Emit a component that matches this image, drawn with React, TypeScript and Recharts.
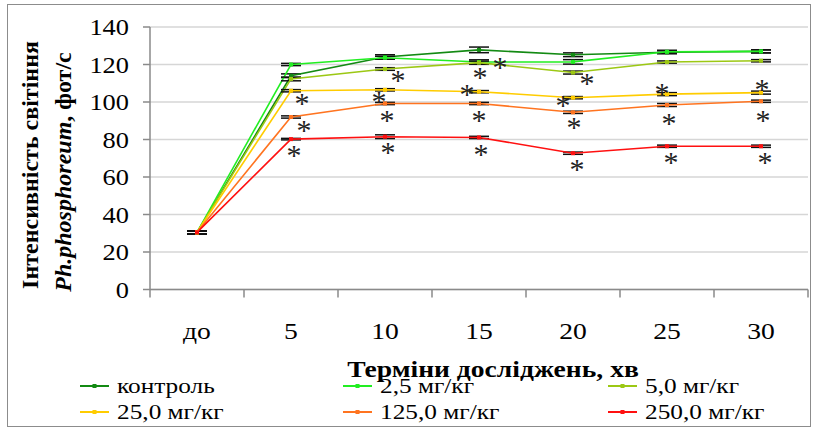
import React from 'react';
import {
  LineChart,
  Line,
  XAxis,
  YAxis,
  CartesianGrid,
  ErrorBar,
  LabelList,
  Legend,
} from 'recharts';

const SERIF = 'Liberation Serif, Times New Roman, serif';

// categories (time points)
const CATEGORIES = ['до', '5', '10', '15', '20', '25', '30'];

// luminescence intensity, per dose
const CONTROL = [30.5, 114, 124, 127.8, 125.2, 126.5, 127];
const DOSE_2_5 = [30.5, 120, 123.6, 121.3, 121.4, 126.8, 127];
const DOSE_5_0 = [30.5, 112.3, 117.6, 121, 115.7, 121.3, 122];
const DOSE_25 = [30.5, 106, 106.5, 105.5, 102.3, 104.2, 105];
const DOSE_125 = [30.5, 92, 99.2, 99.2, 94.5, 98.4, 100.4];
const DOSE_250 = [30.5, 80.2, 81.5, 81.1, 72.7, 76.4, 76.4];

// standard errors
const CONTROL_ERR = [0.8, 1, 1.2, 1.5, 1, 0.8, 0.8];
const DOSE_2_5_ERR = [0.8, 0.6, 0.8, 1.2, 1.2, 0.8, 0.8];
const DOSE_5_0_ERR = [0.8, 1, 0.7, 0.8, 0.8, 0.6, 0.6];
const DOSE_25_ERR = [0.8, 0.6, 0.6, 0.6, 0.6, 0.8, 0.8];
const DOSE_125_ERR = [0.8, 0.6, 0.6, 0.6, 0.6, 0.8, 0.6];
const DOSE_250_ERR = [0.8, 0.4, 1, 0.6, 0.6, 0.6, 0.6];

// significant difference vs control (asterisk)
const CONTROL_SIG = [false, false, false, false, false, false, false];
const DOSE_2_5_SIG = [false, false, false, true, false, false, false];
const DOSE_5_0_SIG = [false, false, true, true, true, false, false];
const DOSE_25_SIG = [false, true, true, true, true, true, true];
const DOSE_125_SIG = [false, true, true, true, true, true, true];
const DOSE_250_SIG = [false, true, true, true, true, true, true];

const Y_TICKS = [0, 20, 40, 60, 80, 100, 120, 140];

// asterisk placement relative to its point (px), styling only
const STAR_OFFSET: Record<string, [number, number][]> = {
  control: [],
  d2_5: [[0, 0], [0, 0], [0, 0], [21, 1]],
  d5_0: [[0, 0], [0, 0], [13, 7], [1, 10], [14, 6]],
  d25: [[0, 0], [11, 8], [-6, 7], [-12, -2], [-10, 3], [-5, -5], [1, -8]],
  d125: [[0, 0], [13, 9], [2, 12], [0, 12], [1, 11], [2, 14], [2, 15]],
  d250: [[0, 0], [3, 12], [3, 11], [2, 13], [4, 12], [4, 12], [4, 12]],
};

const SERIES = [
  { key: 'control', name: 'контроль', color: '#138a13', values: CONTROL, errors: CONTROL_ERR, sig: CONTROL_SIG },
  { key: 'd2_5', name: '2,5 мг/кг', color: '#22ee22', values: DOSE_2_5, errors: DOSE_2_5_ERR, sig: DOSE_2_5_SIG },
  { key: 'd5_0', name: '5,0 мг/кг', color: '#9cc814', values: DOSE_5_0, errors: DOSE_5_0_ERR, sig: DOSE_5_0_SIG },
  { key: 'd25', name: '25,0 мг/кг', color: '#ffcc00', values: DOSE_25, errors: DOSE_25_ERR, sig: DOSE_25_SIG },
  { key: 'd125', name: '125,0 мг/кг', color: '#ff7420', values: DOSE_125, errors: DOSE_125_ERR, sig: DOSE_125_SIG },
  { key: 'd250', name: '250,0 мг/кг', color: '#ff1010', values: DOSE_250, errors: DOSE_250_ERR, sig: DOSE_250_SIG },
];

const data = CATEGORIES.map((label, i) => {
  const row: Record<string, number | string> = { pos: i + 1, label };
  SERIES.forEach((s) => {
    row[s.key] = s.values[i];
    row[s.key + 'Err'] = s.errors[i];
  });
  return row;
});

const W = 814;
const H = 430;
const MARGIN = { top: 27, right: 6, bottom: 50, left: 0 };
const Y_AXIS_W = 150;
const X_AXIS_H = 90.5;
const PLOT_W = W - MARGIN.left - MARGIN.right - Y_AXIS_W;
const BAND = PLOT_W / CATEGORIES.length;
const AXIS_GREY = '#8a8a8a';
const STRETCH = 1.15; // the reference text is a little wider than tall

const XTick = (props: any) => {
  const { x, y, payload } = props;
  const i = Math.round(payload.value - 0.5);
  if (i >= CATEGORIES.length) return <g />;
  return (
    <g transform={`translate(${x + BAND / 2},${y + 39}) scale(${STRETCH},1)`}>
      <text x={0} y={0} textAnchor="middle" fontFamily={SERIF} fontSize={24} fill="#000">
        {CATEGORIES[i]}
      </text>
    </g>
  );
};

const YTick = (props: any) => {
  const { x, y, payload } = props;
  return (
    <g transform={`translate(${x},${y}) scale(1.1,1)`}>
      <text x={0} y={0} dy="0.34em" textAnchor="end" fontFamily={SERIF} fontSize={24} fill="#000">
        {payload.value}
      </text>
    </g>
  );
};

const SquareDot = (color: string) => (props: any) => {
  const { cx, cy, index } = props;
  if (cx == null || cy == null) return <g key={index} />;
  return <rect key={index} x={cx - 2} y={cy - 2} width={4} height={4} fill={color} />;
};

const starLabel = (key: string, sig: boolean[]) => (props: any) => {
  const { x, y, index } = props;
  if (!sig[index]) return null;
  const off = STAR_OFFSET[key][index] || [0, 10];
  return (
    <text
      key={index}
      x={x + off[0]}
      y={y + off[1] + 14}
      textAnchor="middle"
      fontFamily={SERIF}
      fontSize={30}
      fill="#222"
    >
      *
    </text>
  );
};

const renderLegend = () => (
  <div
    style={{
      display: 'grid',
      gridTemplateColumns: '263px 265px 190px',
      fontFamily: SERIF,
      fontSize: 22,
      color: '#000',
    }}
  >
    {SERIES.map((s) => (
      <div key={s.key} style={{ display: 'flex', alignItems: 'center', height: 26 }}>
        <svg width={29} height={8} style={{ flex: 'none' }}>
          <line x1={0} y1={4} x2={29} y2={4} stroke={s.color} strokeWidth={2} />
          <rect x={12.5} y={2} width={4} height={4} fill={s.color} />
        </svg>
        <span
          style={{
            marginLeft: 8,
            lineHeight: '26px',
            display: 'inline-block',
            whiteSpace: 'nowrap',
            transform: `scaleX(${STRETCH})`,
            transformOrigin: 'left center',
          }}
        >
          {s.name}
        </span>
      </div>
    ))}
  </div>
);

export default function App() {
  return (
    <div style={{ position: 'absolute', left: 0, top: 0, width: W, height: H, background: '#fff', fontFamily: SERIF }}>
      <div
        style={{
          position: 'absolute',
          left: 7,
          top: 4,
          width: 804,
          height: 423,
          border: '1.5px solid #8c8c8c',
          boxSizing: 'border-box',
        }}
      />
      <LineChart width={W} height={H} data={data} margin={MARGIN} style={{ position: 'absolute', left: 0, top: 0 }}>
        <CartesianGrid vertical={false} stroke="#d6d6d6" strokeWidth={1.5} />
        <XAxis
          dataKey="pos"
          type="number"
          domain={[0.5, 7.5]}
          ticks={[0.5, 1.5, 2.5, 3.5, 4.5, 5.5, 6.5, 7.5]}
          interval={0}
          height={X_AXIS_H}
          tickSize={8}
          stroke={AXIS_GREY}
          strokeWidth={1.5}
          tick={<XTick />}
          label={{
            content: (p: any) => {
              const vb = p.viewBox || {};
              return (
                <g transform={`translate(${vb.x + vb.width / 2 + 14},${vb.y + 87}) scale(${STRETCH},1)`}>
                  <text x={0} y={0} textAnchor="middle" fontFamily={SERIF} fontWeight="bold" fontSize={24} fill="#000">
                    Терміни досліджень, хв
                  </text>
                </g>
              );
            },
          }}
        />
        <YAxis
          width={Y_AXIS_W}
          domain={[0, 140]}
          ticks={Y_TICKS}
          interval={0}
          tickSize={7}
          tickMargin={14}
          stroke={AXIS_GREY}
          strokeWidth={1.5}
          tick={<YTick />}
          label={{
            content: () => (
              <g fontFamily={SERIF} fontWeight="bold" fontSize={24} fill="#000">
                <text transform="translate(30,165) rotate(-90)" textAnchor="middle" dominantBaseline="central">
                  Інтенсивність світіння
                </text>
                <text transform="translate(63,172) rotate(-90)" textAnchor="middle" dominantBaseline="central">
                  <tspan fontStyle="italic">Ph.phosphoreum</tspan>, фот/с
                </text>
              </g>
            ),
          }}
        />
        <Legend
          verticalAlign="middle"
          layout="horizontal"
          content={renderLegend}
          wrapperStyle={{ left: 80, top: 373, width: 725, height: 52 }}
        />
        {SERIES.map((s) => (
          <Line
            key={s.key}
            type="linear"
            dataKey={s.key}
            name={s.name}
            stroke={s.color}
            strokeWidth={1.6}
            dot={SquareDot(s.color)}
            activeDot={false}
            isAnimationActive={false}
          >
            <ErrorBar dataKey={s.key + 'Err'} width={10} stroke="#111" strokeWidth={1.5} direction="y" isAnimationActive={false} />
            <LabelList dataKey={s.key} content={starLabel(s.key, s.sig)} />
          </Line>
        ))}
      </LineChart>
    </div>
  );
}
